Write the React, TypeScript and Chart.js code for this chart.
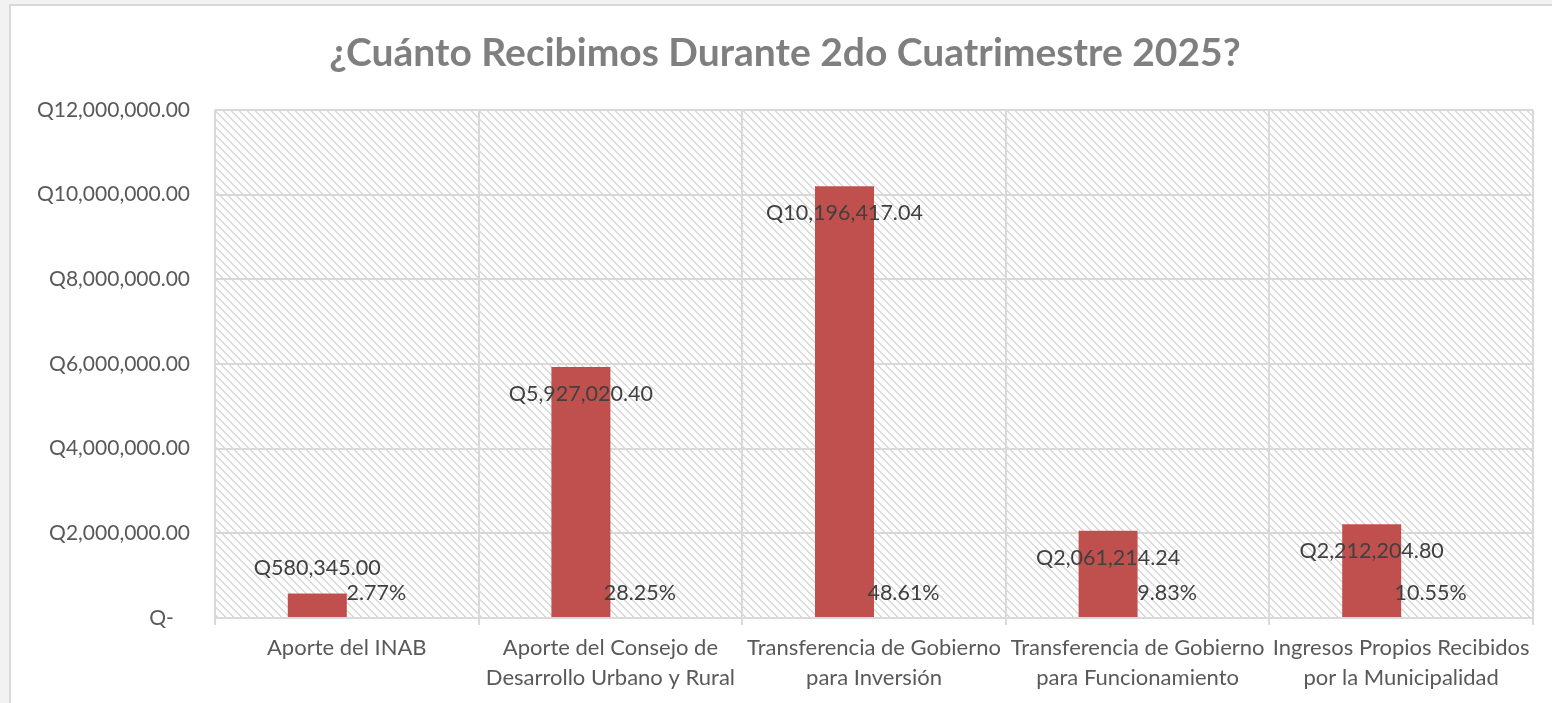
import React, { useEffect, useRef } from "react";
import { Chart, registerables } from "chart.js";

Chart.register(...registerables);

const titleText = "¿Cuánto Recibimos Durante 2do Cuatrimestre 2025?";
const categories: string[][] = [
  ["Aporte del INAB"],
  ["Aporte del Consejo de", "Desarrollo Urbano y Rural"],
  ["Transferencia de Gobierno", "para Inversión"],
  ["Transferencia de Gobierno", "para Funcionamiento"],
  ["Ingresos Propios Recibidos", "por la Municipalidad"],
];
const amounts = [580345.0, 5927020.4, 10196417.04, 2061214.24, 2212204.8];
const percents = [2.77, 28.25, 48.61, 9.83, 10.55];
const yMin = 0;
const yMax = 12000000;
const yStep = 2000000;

const FONT = "Lato, 'Open Sans', sans-serif";

function money(v: number): string {
  if (v === 0) return "Q-   ";
  return "Q" + v.toLocaleString("en-US", { minimumFractionDigits: 2, maximumFractionDigits: 2 });
}

function makePattern(): CanvasPattern | string {
  const c = document.createElement("canvas");
  c.width = 8;
  c.height = 8;
  const g = c.getContext("2d");
  if (!g) return "#ffffff";
  g.fillStyle = "#ffffff";
  g.fillRect(0, 0, 8, 8);
  g.fillStyle = "#dadada";
  for (let y = 0; y < 8; y++) {
    g.fillRect(y % 8, y, 1, 1);
    g.fillRect((y + 1) % 8, y, 1, 1);
  }
  const p = g.createPattern(c, "repeat");
  return p || "#ffffff";
}

const bgPlugin = {
  id: "hatchBg",
  beforeDraw(chart: any) {
    const { ctx, chartArea } = chart;
    ctx.save();
    ctx.fillStyle = makePattern();
    ctx.fillRect(chartArea.left, chartArea.top, chartArea.right - chartArea.left, chartArea.bottom - chartArea.top);
    ctx.restore();
  },
};

const titlePlugin = {
  id: "customTitle",
  afterDraw(chart: any) {
    const { ctx } = chart;
    ctx.save();
    ctx.font = `bold 39px ${FONT}`;
    ctx.fillStyle = "#7f7f7f";
    ctx.textAlign = "center";
    ctx.textBaseline = "middle";
    ctx.fillText(titleText, 785, 53);
    ctx.restore();
  },
};

const labelPlugin = {
  id: "valueLabels",
  afterDatasetsDraw(chart: any) {
    const { ctx } = chart;
    ctx.save();
    ctx.font = `21.5px ${FONT}`;
    ctx.fillStyle = "#404040";
    ctx.textAlign = "center";
    ctx.textBaseline = "middle";
    const m0 = chart.getDatasetMeta(0);
    m0.data.forEach((el: any, i: number) => {
      const h = el.base - el.y;
      const ty = h > 60 ? el.y + 27 : el.y - 25;
      ctx.fillText(money(amounts[i]), el.x, ty);
    });
    const m1 = chart.getDatasetMeta(1);
    m1.data.forEach((el: any, i: number) => {
      ctx.fillText(percents[i].toFixed(2) + "%", el.x, el.y - 25);
    });
    ctx.restore();
  },
};

export default function App() {
  const ref = useRef<HTMLCanvasElement | null>(null);
  useEffect(() => {
    if (!ref.current) return;
    const chart = new Chart(ref.current, {
      type: "bar",
      data: {
        labels: categories,
        datasets: [
          {
            data: amounts,
            backgroundColor: "#c0504d",
            categoryPercentage: 0.4477,
            barPercentage: 1,
          },
          {
            data: percents.map((p) => p / 100),
            backgroundColor: "rgba(0,0,0,0)",
            categoryPercentage: 0.4477,
            barPercentage: 1,
          },
        ],
      },
      options: {
        responsive: false,
        animation: false,
        layout: { padding: { top: 110, right: 37, bottom: 0, left: 0 } },
        plugins: {
          legend: { display: false },
          tooltip: { enabled: false },
          title: { display: false },
        },
        scales: {
          x: {
            offset: true,
            grid: { offset: true, color: "#d9d9d9", lineWidth: 2, drawTicks: true, tickLength: 7 },
            border: { color: "#d9d9d9", width: 2 },
            ticks: {
              font: { family: FONT, size: 22, lineHeight: 1.36 },
              color: "#595959",
              padding: 8,
              maxRotation: 0,
              minRotation: 0,
              autoSkip: false,
            },
            afterFit: (s: any) => {
              s.height = 85;
            },
          },
          y: {
            min: yMin,
            max: yMax,
            grid: { color: "#d9d9d9", lineWidth: 2, drawTicks: false },
            border: { display: false },
            ticks: {
              stepSize: yStep,
              font: { family: FONT, size: 21 },
              color: "#595959",
              padding: 25,
              callback: (v: any) => money(Number(v)),
            },
            afterFit: (s: any) => {
              s.width = 215;
            },
          },
        },
      },
      plugins: [bgPlugin, labelPlugin, titlePlugin],
    });
    return () => chart.destroy();
  }, []);

  return (
    <div style={{ position: "fixed", left: 0, top: 0, width: 1552, height: 703, background: "#f2f2f2", overflow: "hidden" }}>
      <div
        style={{
          position: "absolute",
          left: 9,
          top: 4,
          width: 1600,
          height: 800,
          background: "#ffffff",
          border: "2px solid #d9d9d9",
        }}
      />
      <canvas ref={ref} width={1570} height={703} style={{ position: "absolute", left: 0, top: 0 }} />
    </div>
  );
}
